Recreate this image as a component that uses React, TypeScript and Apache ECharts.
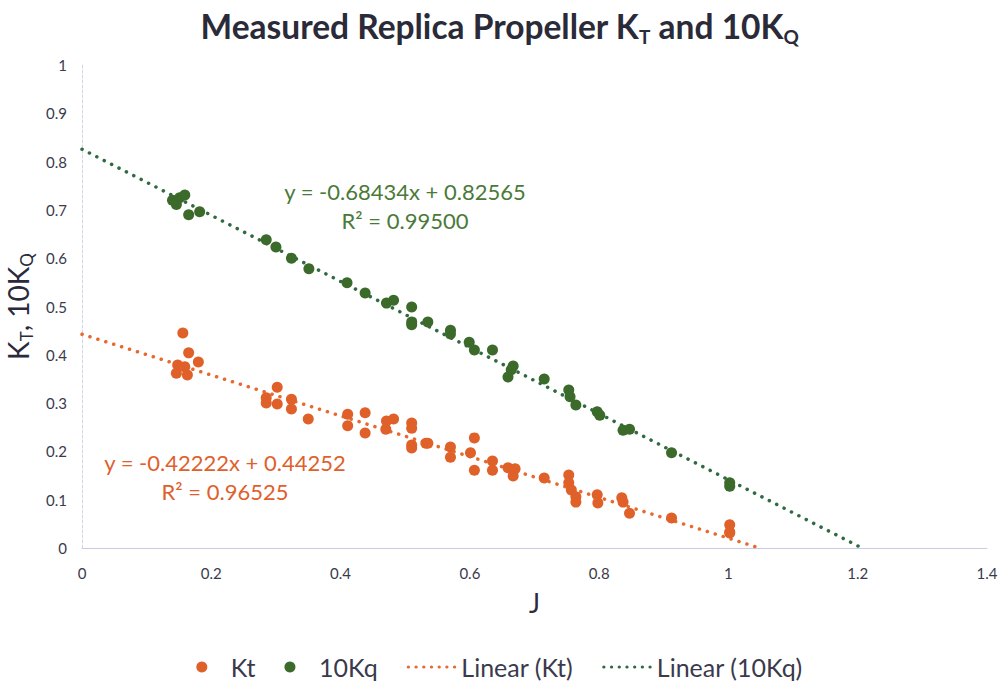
import React, { useEffect, useRef } from "react";
import * as echarts from "echarts";

// ---- data ----
const ktJ = [0.156, 0.165, 0.180, 0.148, 0.159, 0.146, 0.163, 0.302, 0.285, 0.285, 0.302, 0.324, 0.324, 0.350, 0.411, 0.411, 0.438, 0.438, 0.471, 0.482, 0.470, 0.510, 0.510, 0.510, 0.510, 0.532, 0.535, 0.570, 0.570, 0.607, 0.601, 0.607, 0.635, 0.635, 0.659, 0.670, 0.667, 0.715, 0.753, 0.753, 0.757, 0.764, 0.764, 0.797, 0.798, 0.835, 0.837, 0.847, 0.912, 1.002, 1.002, 1.002];
const ktVal = [0.445, 0.404, 0.385, 0.379, 0.375, 0.362, 0.358, 0.333, 0.311, 0.300, 0.298, 0.308, 0.288, 0.267, 0.277, 0.253, 0.280, 0.238, 0.263, 0.267, 0.246, 0.259, 0.248, 0.213, 0.207, 0.217, 0.217, 0.209, 0.188, 0.228, 0.197, 0.161, 0.180, 0.161, 0.166, 0.164, 0.149, 0.145, 0.151, 0.135, 0.120, 0.106, 0.095, 0.110, 0.093, 0.104, 0.095, 0.072, 0.062, 0.048, 0.033, 0.031];

const kqJ = [0.151, 0.159, 0.146, 0.140, 0.165, 0.182, 0.285, 0.300, 0.324, 0.351, 0.410, 0.438, 0.471, 0.482, 0.510, 0.510, 0.510, 0.535, 0.570, 0.570, 0.599, 0.607, 0.635, 0.667, 0.664, 0.659, 0.715, 0.753, 0.755, 0.764, 0.797, 0.801, 0.837, 0.847, 0.912, 1.002, 1.002];
const kqVal = [0.725, 0.731, 0.711, 0.720, 0.690, 0.696, 0.638, 0.623, 0.600, 0.578, 0.549, 0.528, 0.507, 0.513, 0.499, 0.468, 0.462, 0.468, 0.451, 0.443, 0.426, 0.410, 0.410, 0.377, 0.369, 0.354, 0.350, 0.327, 0.313, 0.296, 0.282, 0.275, 0.244, 0.246, 0.197, 0.128, 0.135];

// linear trendline coefficients [slope, intercept] and R^2
const ktFit = [-0.42222, 0.44252];
const kqFit = [-0.68434, 0.82565];
const ktR2 = "0.96525";
const kqR2 = "0.99500";

const seriesNames = ["Kt", "10Kq", "Linear (Kt)", "Linear (10Kq)"];

const ORANGE = "#e0602a";
const GREEN = "#3b6a2b";
const ORANGE_LINE = "#e8692e";
const GREEN_LINE = "#2f6a40";
const TEXT = "#3a3a4c";
const FONT = "Lato";

function fitLine(fit: number[]) {
  const [m, b] = fit;
  return [[0, b], [-b / m, 0]];
}

function fmt(n: number) {
  return Math.abs(n).toFixed(5);
}

export default function App() {
  const ref = useRef<HTMLDivElement>(null);
  useEffect(() => {
    if (!ref.current) return;
    const chart = echarts.init(ref.current, null, { renderer: "svg" });
    const dotted = { width: 3.5, cap: "round" as const, type: [0.1, 8.2] };
    const legendDotted = { width: 3.2, cap: "round" as const, type: [0.1, 7.6] };
    chart.setOption({
      animation: false,
      backgroundColor: "#ffffff",
      textStyle: { fontFamily: FONT },
      title: {
        text: "Measured Replica Propeller K{s|T} and 10K{s|Q}",
        left: "center",
        top: 1,
        textStyle: {
          fontFamily: FONT,
          fontSize: 33.5,
          fontWeight: "bold",
          color: "#2a2a38",
          lineHeight: 40,
          rich: {
            s: { fontFamily: FONT, fontSize: 19, fontWeight: "bold", color: "#2a2a38", verticalAlign: "bottom", lineHeight: 22 },
          },
        },
      },
      grid: { left: 82, right: 12, top: 65, bottom: 134, outerBoundsMode: "none", containLabel: false },
      legend: {
        data: [
          { name: seriesNames[0] },
          { name: seriesNames[1] },
          { name: seriesNames[2], itemStyle: { opacity: 0 }, lineStyle: { ...legendDotted, color: ORANGE_LINE } },
          { name: seriesNames[3], itemStyle: { opacity: 0 }, lineStyle: { ...legendDotted, color: GREEN_LINE } },
        ],
        top: 649,
        left: "center",
        itemWidth: 48,
        itemHeight: 11,
        itemGap: 29,
        textStyle: { fontFamily: FONT, fontSize: 25, color: TEXT, lineHeight: 26 },
      },
      xAxis: {
        type: "value",
        min: 0,
        max: 1.4,
        interval: 0.2,
        name: "J",
        nameLocation: "middle",
        nameGap: 42,
        nameTextStyle: { fontFamily: FONT, fontSize: 26, color: "#2a2a3c" },
        axisLine: { show: true, lineStyle: { color: "#c9cce2", width: 1 } },
        axisTick: { show: false },
        splitLine: { show: false },
        axisLabel: { fontFamily: FONT, fontSize: 15, color: TEXT, margin: 17 },
      },
      yAxis: {
        type: "value",
        min: 0,
        max: 1,
        interval: 0.1,
        name: "K{s|T}, 10K{s|Q}",
        nameLocation: "middle",
        nameGap: 38,
        nameTextStyle: {
          fontFamily: FONT,
          fontSize: 28,
          color: "#2a2a3c",
          lineHeight: 34,
          rich: { s: { fontFamily: FONT, fontSize: 17, color: "#2a2a3c", verticalAlign: "bottom", lineHeight: 20 } },
        },
        axisLine: { show: true, lineStyle: { color: "#d3d6ea", width: 1, type: [3, 2] } },
        axisTick: { show: false },
        splitLine: { show: false },
        axisLabel: { fontFamily: FONT, fontSize: 15, color: TEXT, margin: 15 },
      },
      series: [
        {
          name: seriesNames[0],
          type: "scatter",
          symbol: "circle",
          symbolSize: 11,
          itemStyle: { color: ORANGE, opacity: 1 },
          data: ktJ.map((j, i) => [j, ktVal[i]]),
          z: 3,
        },
        {
          name: seriesNames[1],
          type: "scatter",
          symbol: "circle",
          symbolSize: 11,
          itemStyle: { color: GREEN, opacity: 1 },
          data: kqJ.map((j, i) => [j, kqVal[i]]),
          z: 3,
        },
        {
          name: seriesNames[2],
          type: "line",
          symbol: "none",
          lineStyle: { ...dotted, color: ORANGE_LINE },
          itemStyle: { color: ORANGE_LINE },
          data: fitLine(ktFit),
          z: 2,
        },
        {
          name: seriesNames[3],
          type: "line",
          symbol: "none",
          lineStyle: { ...dotted, color: GREEN_LINE },
          itemStyle: { color: GREEN_LINE },
          data: fitLine(kqFit),
          z: 2,
        },
      ],
      graphic: [
        {
          type: "text",
          x: 405,
          y: 206,
          style: {
            text: `y = -${fmt(kqFit[0])}x + ${fmt(kqFit[1])}\nR² = ${kqR2}`,
            font: `22px ${FONT}`,
            fill: "#4a7a38",
            align: "center",
            verticalAlign: "middle",
            lineHeight: 29,
          },
        },
        {
          type: "text",
          x: 225,
          y: 477,
          style: {
            text: `y = -${fmt(ktFit[0])}x + ${fmt(ktFit[1])}\nR² = ${ktR2}`,
            font: `22px ${FONT}`,
            fill: "#e0602c",
            align: "center",
            verticalAlign: "middle",
            lineHeight: 29,
          },
        },
      ],
    });
    return () => chart.dispose();
  }, []);
  return (
    <div
      ref={ref}
      style={{ position: "fixed", left: 0, top: 0, width: 999, height: 682, background: "#fff" }}
    />
  );
}
